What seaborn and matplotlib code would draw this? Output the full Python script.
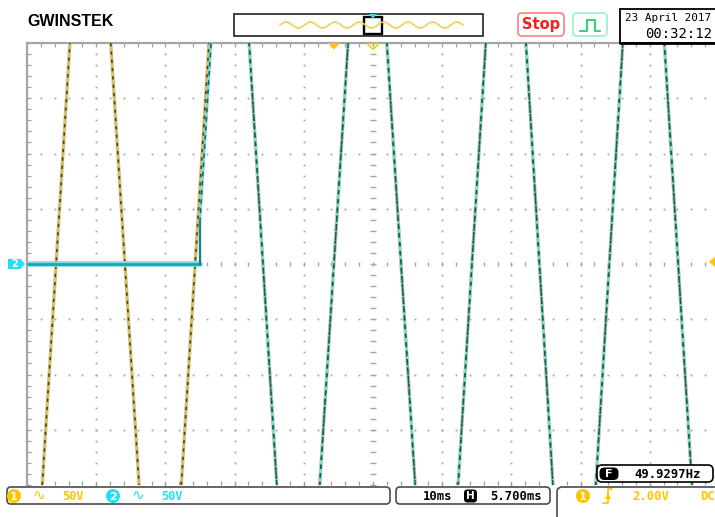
import numpy as np
import pandas as pd
import matplotlib
matplotlib.use("Agg")
import matplotlib.pyplot as plt
from matplotlib.patches import FancyBboxPatch, Rectangle, Polygon, Circle
from matplotlib.ticker import MultipleLocator
import seaborn as sns

# --- acquisition ------------------------------------------------------------
# Times (ms from the left edge of the screen) where each slope of the mains
# waveform enters and leaves the +/-200 V display window.
ch1_times = [2.2, 6.2, 12.1, 16.2, 22.3, 26.3, 32.1, 36.1, 42.3, 46.4,
             52.0, 56.1, 62.3, 66.3, 72.1, 76.0, 82.2, 86.1, 92.1, 96.1]
ch1_volts = [-200, 200, 200, -200, -200, 200, 200, -200, -200, 200,
             200, -200, -200, 200, 200, -200, -200, 200, 200, -200]

# Channel 2 rests at 0 V until the switch closes, then follows the mains.
ch2_times = [0.0, 25.0, 25.0, 26.6, 32.1, 36.1, 42.3, 46.4,
             52.0, 56.1, 62.3, 66.3, 72.1, 76.0, 82.2, 86.1, 92.1, 96.1]
ch2_volts = [0, 0, 40, 200, 200, -200, -200, 200,
             200, -200, -200, 200, 200, -200, -200, 200, 200, -200]
ch2_trace = [0, 0, 0, 0, 1, 1, 2, 2, 3, 3, 4, 4, 5, 5, 6, 6, 7, 7]

# --- scope settings ----------------------------------------------------------
time_per_div = 10        # ms
volts_per_div = 50       # V
h_divs, v_divs = 10, 8
h_position = 5.700       # ms
trigger_level = 2.00     # V
date_text = "23 April 2017"
time_text = "00:32:12"
freq_text = "49.9297Hz"
overview_cycles = 7.5

W, H = 715, 517
YEL = "#ffc400"
CYN = "#22e0f0"

sns.set_style("white")
plt.rcParams["font.family"] = ["DejaVu Sans"]

fig = plt.figure(figsize=(W / 100, H / 100), dpi=100)
fig.patch.set_facecolor("white")

x_span = time_per_div * h_divs
y_half = volts_per_div * v_divs / 2
ax = fig.add_axes([27 / W, 1 - 485 / H, 692 / W, 442 / H])
ax.set_xlim(0, x_span)
ax.set_ylim(-y_half, y_half)

# graticule: dots on the division lines, ticks on the centre cross
sub_x = np.arange(0, x_span + 0.01, time_per_div / 5)
sub_y = np.arange(-y_half, y_half + 0.01, volts_per_div / 5)
gcol = "#a4a4a4"
for k in range(1, h_divs):
    xv = k * time_per_div
    if xv == x_span / 2:
        ax.plot(np.full_like(sub_y, xv), sub_y, ls="none", marker="_",
                ms=4, mew=1, color=gcol, zorder=1)
    else:
        ax.plot(np.full_like(sub_y, xv), sub_y, ls="none", marker="s",
                ms=1.3, mew=0, color=gcol, zorder=1)
for k in range(1, v_divs):
    yv = -y_half + k * volts_per_div
    if yv == 0:
        ax.plot(sub_x, np.zeros_like(sub_x), ls="none", marker="|",
                ms=3, mew=1, color=gcol, zorder=1)
    else:
        ax.plot(sub_x, np.full_like(sub_x, yv), ls="none", marker="s",
                ms=1.3, mew=0, color=gcol, zorder=1)

for side in ("bottom", "right"):
    ax.spines[side].set_visible(False)
for side in ("top", "left"):
    ax.spines[side].set_color("#a6a6a6")
    ax.spines[side].set_linewidth(1.6)
ax.xaxis.set_major_locator(MultipleLocator(time_per_div))
ax.xaxis.set_minor_locator(MultipleLocator(time_per_div / 5))
ax.yaxis.set_major_locator(MultipleLocator(volts_per_div))
ax.yaxis.set_minor_locator(MultipleLocator(volts_per_div / 5))
ax.tick_params(which="both", direction="in", length=3, width=0.9,
               color="#a0a0a0", top=True, bottom=True, left=True, right=False,
               labelbottom=False, labelleft=False)

# traces
df1 = pd.DataFrame({"t": ch1_times, "v": ch1_volts,
                    "seg": [i // 2 for i in range(len(ch1_times))]})
df2 = pd.DataFrame({"t": ch2_times, "v": ch2_volts, "seg": ch2_trace})

sns.lineplot(data=df1, x="t", y="v", units="seg", estimator=None, sort=False,
             color="#d4c070", lw=2.4, ax=ax, zorder=3)
sns.lineplot(data=df2, x="t", y="v", units="seg", estimator=None, sort=False,
             color="#7ddada", lw=2.0, ax=ax, zorder=4)
sns.lineplot(data=df1, x="t", y="v", units="seg", estimator=None, sort=False,
             color="#4a4620", lw=1.2, linestyle=(0, (2, 3)), ax=ax, zorder=5)
sns.lineplot(data=df2.iloc[2:], x="t", y="v", units="seg", estimator=None,
             sort=False, color="#0f6464", lw=1.1, linestyle=(1.5, (3, 3)),
             ax=ax, zorder=6)
# flat section before the switch, and the step when it closes
sns.lineplot(data=df2.iloc[:2], x="t", y="v", estimator=None, sort=False,
             color="#7fe0e4", lw=4.2, ax=ax, zorder=6)
sns.lineplot(data=df2.iloc[:2], x="t", y="v", estimator=None, sort=False,
             color="#17a9ad", lw=2.0, ax=ax, zorder=7)
sns.lineplot(data=df2.iloc[1:3], x="t", y="v", estimator=None, sort=False,
             color="#1a8080", lw=1.4, ax=ax, zorder=7)
ax.set_xlabel("")
ax.set_ylabel("")

# --- screen furniture, drawn in pixel coordinates ----------------------------
ov = fig.add_axes([0, 0, 1, 1])
ov.set_xlim(0, W)
ov.set_ylim(H, 0)
ov.axis("off")
mono = "DejaVu Sans Mono"

ov.text(27, 21, "GWINSTEK", fontfamily="Liberation Sans", fontweight="bold",
        fontsize=11.5, va="center", ha="left", color="black")

# memory overview bar
ov.add_patch(Rectangle((234, 14), 249, 22, fill=False, ec="#222222", lw=1.2))
ox = np.linspace(280, 463, 400)
ov.plot(ox, 25 - 3 * np.sin(2 * np.pi * overview_cycles * (ox - 280) / 183),
        color="#f7cd55", lw=1.2)
ov.add_patch(Rectangle((364, 17), 18, 17, fill=False, ec="black", lw=1.7))
ov.add_patch(Polygon([(369, 14), (377, 14), (373, 18.5)], fc=CYN, ec="none"))

# run state and trigger icons
ov.add_patch(FancyBboxPatch((518, 13), 46, 23,
                            boxstyle="round,pad=0,rounding_size=4",
                            fc="white", ec="#ff7d7d", lw=1.2))
ov.text(541, 24.5, "Stop", color="#ff1c1c", fontweight="bold", fontsize=10.5,
        ha="center", va="center")
ov.add_patch(FancyBboxPatch((573, 13), 34, 23,
                            boxstyle="round,pad=0,rounding_size=4",
                            fc="white", ec="#9cf0c6", lw=1.2))
ov.plot([580, 587, 587, 595, 595, 600], [31, 31, 20, 20, 31, 31],
        color="#33d27e", lw=1.5)

# date / clock
ov.add_patch(Rectangle((620, 9), 100, 34, fc="white", ec="black", lw=1.3))
ov.plot([620, 720], [43, 43], color="black", lw=2.0)
ov.text(625, 18, date_text, fontfamily=mono, fontsize=7.9, ha="left",
        va="center", color="black")
ov.text(712, 34, time_text, fontfamily=mono, fontsize=10, ha="right",
        va="center", color="black")

# trigger position markers
ov.add_patch(Polygon([(328, 43), (340, 43), (334, 49.5)], fc=YEL, ec="none"))
ov.add_patch(Polygon([(367, 43.5), (379, 43.5), (373, 49.5)], fill=False,
                     ec=YEL, lw=1.0))

# channel 2 ground marker
ov.add_patch(Polygon([(8, 259), (20.5, 259), (25, 264), (20.5, 269), (8, 269)],
                     fc=CYN, ec="none"))
ov.text(14.5, 264.3, "2", color="white", fontweight="bold", fontsize=7,
        ha="center", va="center")

# trigger level marker on the right edge
lvl_y = 264 - trigger_level / volts_per_div * 55.25
ov.add_patch(Polygon([(716, lvl_y - 6), (716, lvl_y + 6), (709, lvl_y)],
                     fc=YEL, ec="none"))

# channel status bar
ov.add_patch(FancyBboxPatch((7, 487), 383, 17,
                            boxstyle="round,pad=0,rounding_size=4",
                            fc="white", ec="#4a4a4a", lw=1.2))
for cx, col, num in ((14, YEL, "1"), (113, CYN, "2")):
    ov.add_patch(Circle((cx, 496), 7, fc=col, ec="none"))
    ov.text(cx, 496.5, num, color="white", fontweight="bold", fontsize=8,
            ha="center", va="center")
    ov.text(cx + 25, 495, "\u223f", color=col, fontsize=11, ha="center",
            va="center")
    ov.text(cx + 48, 496, f"{volts_per_div}V", color=col, fontfamily=mono,
            fontweight="bold", fontsize=8.6, ha="left", va="center")

# horizontal status
ov.add_patch(FancyBboxPatch((396, 487), 154, 17,
                            boxstyle="round,pad=0,rounding_size=4",
                            fc="white", ec="#4a4a4a", lw=1.2))
ov.text(423, 496, f"{time_per_div}ms", fontfamily=mono, fontweight="bold",
        fontsize=8.8, ha="left", va="center", color="black")
ov.add_patch(FancyBboxPatch((464, 489.5), 13, 13,
                            boxstyle="round,pad=0,rounding_size=3.5",
                            fc="black", ec="none"))
ov.text(470.5, 496.3, "H", color="white", fontweight="bold", fontsize=7.5,
        ha="center", va="center")
ov.text(490, 496, f"{h_position:.3f}ms", fontfamily=mono, fontweight="bold",
        fontsize=8.8, ha="left", va="center", color="black")

# trigger status
ov.plot([557, 557, 558, 561, 720], [517, 491, 488.5, 487, 487],
        color="#4a4a4a", lw=1.2)
ov.add_patch(Circle((583, 496), 7, fc=YEL, ec="none"))
ov.text(583, 496.5, "1", color="white", fontweight="bold", fontsize=8,
        ha="center", va="center")
ov.plot([603, 607.5, 607.5, 612], [503, 503, 489, 489], color=YEL, lw=1.2)
ov.plot([607.5], [496], marker="^", ms=4.5, color=YEL, mew=0)
ov.text(632, 496, f"{trigger_level:.2f}V", fontfamily=mono, fontweight="bold",
        fontsize=8.8, ha="left", va="center", color=YEL)
ov.text(700, 496, "DC", fontfamily=mono, fontweight="bold", fontsize=8.8,
        ha="left", va="center", color=YEL)

# frequency counter
ov.add_patch(FancyBboxPatch((597, 465), 116, 17,
                            boxstyle="round,pad=0,rounding_size=5",
                            fc="white", ec="black", lw=1.2, zorder=5))
ov.add_patch(FancyBboxPatch((599.5, 467.5), 19, 12.5,
                            boxstyle="round,pad=0,rounding_size=5",
                            fc="black", ec="none", zorder=6))
ov.text(609, 474, "F", color="white", fontweight="bold", fontsize=8,
        ha="center", va="center", zorder=7)
ov.text(634, 474, freq_text, fontfamily=mono, fontweight="bold", fontsize=8.8,
        ha="left", va="center", color="black", zorder=7)

fig.savefig("out.png", dpi=100)
